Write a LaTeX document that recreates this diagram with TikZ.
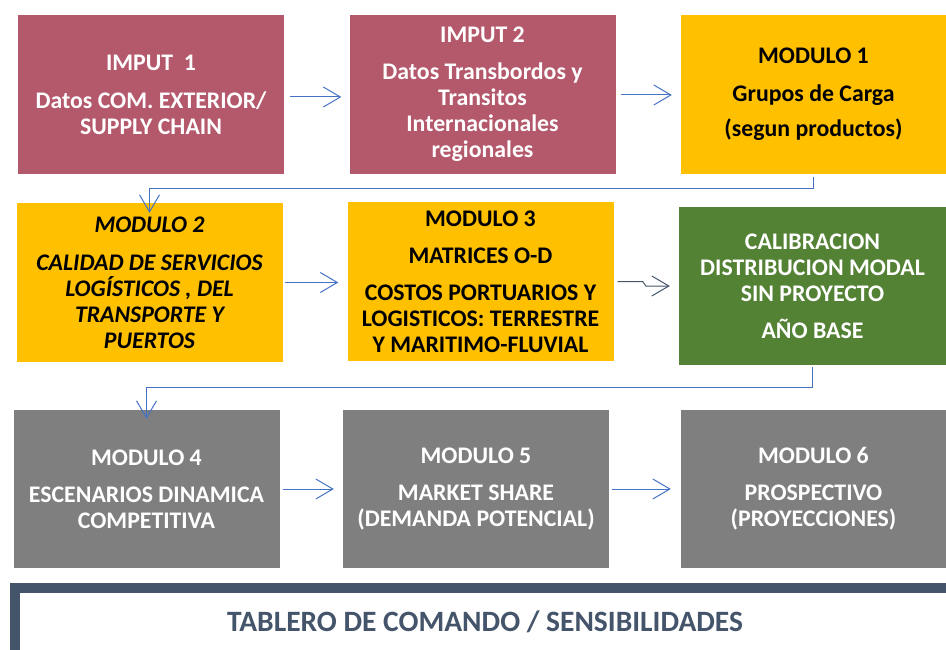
\documentclass[tikz,border=0pt]{standalone}
\usepackage{fontspec}
\setmainfont{Carlito}
\usepackage{tikz}
\usetikzlibrary{arrows.meta}

\definecolor{rose}{HTML}{B4586C}
\definecolor{gold}{HTML}{FFC000}
\definecolor{leaf}{HTML}{548235}
\definecolor{stone}{HTML}{7F7F7F}
\definecolor{slate}{HTML}{44546A}
\definecolor{link}{HTML}{4472C4}

\begin{document}
\begin{tikzpicture}[x=1pt,y=-1pt,
  box/.style={shape=rectangle,inner sep=0pt,minimum width=266pt,minimum height=159pt,
    align=center,font=\fontsize{23.8}{26}\selectfont\bfseries},
  flow/.style={draw=link,line width=1pt,-{Straight Barb[length=17pt,width=20pt,line width=1pt]}}]

\useasboundingbox (0,0) rectangle (946,650);

\node[box,fill=rose,text=white] (I1) at (151,94.5) {IMPUT\ \ 1\\[12pt] Datos COM. EXTERIOR/\\ SUPPLY CHAIN};
\node[box,fill=rose,text=white] (I2) at (482.5,94.5) {IMPUT 2\\[11pt] Datos Transbordos y\\ Transitos\\ Internacionales\\ regionales};
\node[box,fill=gold,minimum width=265pt] (M1) at (813.5,94.5) {MODULO 1\\[12pt] Grupos de Carga\\[9pt] (segun productos)};

\node[box,fill=gold,font=\fontsize{23.8}{26}\selectfont\bfseries\itshape] (M2) at (149.5,282.5) {MODULO 2\\[12pt] CALIDAD DE SERVICIOS\\ LOGÍSTICOS , DEL\\ TRANSPORTE Y\\ PUERTOS};
\node[box,fill=gold] (M3) at (480.5,281.5) {MODULO 3\\[11pt] MATRICES O-D\\[11pt] COSTOS PORTUARIOS Y\\ LOGISTICOS: TERRESTRE\\ Y MARITIMO-FLUVIAL};
\node[box,fill=leaf,text=white,minimum width=267pt,minimum height=158pt] (CB) at (812.5,286) {CALIBRACION\\ DISTRIBUCION MODAL\\ SIN PROYECTO\\[11pt] AÑO BASE};

\node[box,fill=stone,text=white,minimum height=158pt] (M4) at (146.5,489) {MODULO 4\\[11pt] ESCENARIOS DINAMICA\\ COMPETITIVA};
\node[box,fill=stone,text=white,minimum height=158pt] (M5) at (476,489) {MODULO 5\\[11pt] MARKET SHARE\\ (DEMANDA POTENCIAL)};
\node[box,fill=stone,text=white,minimum width=265pt,minimum height=158pt] (M6) at (813.5,489) {MODULO 6\\[11pt] PROSPECTIVO\\ (PROYECCIONES)};

% command board
\fill[slate] (10,583) rectangle (960,660);
\fill[white] (20,593) rectangle (960,660);
\node[font=\fontsize{29.5}{32}\selectfont\bfseries,text=slate] (TB) at (485,622) {TABLERO DE COMANDO / SENSIBILIDADES};

\draw[flow,shorten <=6pt,shorten >=8pt] ([yshift=-2.5pt]I1.east) -- ([yshift=-2.5pt]I2.west);
\draw[flow,shorten <=5pt,shorten >=9pt] ([yshift=-0.5pt]I2.east) -- ([yshift=-0.5pt]M1.west);
\draw[flow,shorten <=2pt,shorten >=9pt] (M2.east) -- (M3.west |- M2.east);
\draw[flow,shorten <=3pt,shorten >=9pt] (M4.east) -- (M5.west);
\draw[flow,shorten <=3pt,shorten >=10pt] (M5.east) -- (M6.west);

\draw[flow,draw=slate] ([xshift=4pt]M3.east) -- ([xshift=-36pt]CB.west |- M3.east)
  -- ([xshift=-33pt]CB.west) -- ([xshift=-9pt]CB.west);

\draw[flow] ([yshift=-3pt]M1.south) -- ([yshift=-14pt]M1.south) -| ([yshift=-10pt]M2.north);
\draw[flow] ([yshift=-2pt]CB.south) -- ([yshift=-22pt]CB.south) -| ([yshift=-9pt]M4.north);

\end{tikzpicture}
\end{document}
